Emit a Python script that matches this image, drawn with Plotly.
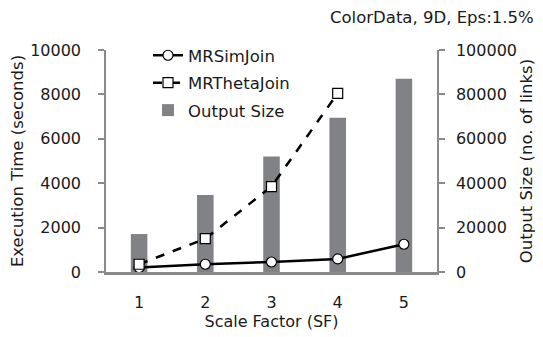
import plotly.graph_objects as go

scale_factors = [1, 2, 3, 4, 5]
mrsimjoin = [200, 350, 450, 590, 1250]
mrthetajoin = [350, 1500, 3850, 8050, None]
output_size = [17100, 34700, 52000, 69500, 87000]
left_ticks = [0, 2000, 4000, 6000, 8000, 10000]
right_ticks = [0, 20000, 40000, 60000, 80000, 100000]

FONT = "DejaVu Sans"
AX = "#8a8a8a"
TXT = "#1a1a1a"

# page body adds an 8px margin, so the figure is laid out 8px smaller
W, H = 535, 329
L, R, T, B = 98, 106, 42, 65
PW, PH = W - L - R, H - T - B

fig = go.Figure()
fig.add_trace(go.Scatter(
    x=scale_factors, y=mrsimjoin, name="MRSimJoin", yaxis="y2", legendgroup="a",
    mode="lines+markers",
    line=dict(color="black", width=2.5),
    marker=dict(symbol="circle", size=10, color="white", line=dict(color="black", width=1.2)),
))
fig.add_trace(go.Scatter(
    x=scale_factors, y=mrthetajoin, name="MRThetaJoin", yaxis="y2", legendgroup="b",
    mode="lines+markers",
    line=dict(color="black", width=2.5, dash="dash"),
    marker=dict(symbol="square", size=10, color="white", line=dict(color="black", width=1.2)),
))
fig.add_trace(go.Bar(
    x=scale_factors, y=output_size, name="Output Size", yaxis="y", legendgroup="c",
    width=0.25, marker=dict(color="#808285", line=dict(width=0)),
))

fig.add_annotation(text="ColorData, 9D, Eps:1.5%", xref="paper", yref="paper",
                   x=(528 - L) / PW, y=(H - B - 10) / PH, xanchor="right", yanchor="middle",
                   showarrow=False, font=dict(family=FONT, size=16.5, color=TXT))

fig.update_layout(
    width=W, height=H,
    margin=dict(l=L, r=R, t=T, b=B, autoexpand=False),
    paper_bgcolor="white", plot_bgcolor="white",
    font=dict(family=FONT, size=16, color=TXT),
    showlegend=True,
    legend=dict(x=(140 - L) / PW, y=(H - B - 30) / PH, xanchor="left", yanchor="top",
                bgcolor="rgba(0,0,0,0)", font=dict(size=16.5), traceorder="grouped",
                tracegroupgap=3),
    xaxis=dict(range=[0.5, 5.5], tickvals=scale_factors, ticktext=[str(v) for v in scale_factors],
               showgrid=False, zeroline=False, showline=True, linecolor=AX, linewidth=2.5,
               ticks="", ticklabelstandoff=14, tickfont=dict(size=16),
               title=dict(text="Scale Factor (SF)", standoff=2, font=dict(size=16))),
    yaxis=dict(side="right", range=[0, 100000], tickvals=right_ticks, ticktext=[str(v) for v in right_ticks],
               showgrid=False, zeroline=False, showline=True, linecolor=AX, linewidth=1.5,
               ticks="outside", ticklen=6, tickcolor=AX, tickwidth=1.5, ticklabelstandoff=8,
               title=dict(text="Output Size (no. of links)", standoff=1, font=dict(size=16.5))),
    yaxis2=dict(side="left", overlaying="y", range=[0, 10000], tickvals=left_ticks, ticktext=[str(v) for v in left_ticks],
                showgrid=False, zeroline=False, showline=True, linecolor=AX, linewidth=1.5,
                ticks="outside", ticklen=6, tickcolor=AX, tickwidth=1.5, ticklabelstandoff=14,
                title=dict(text="Execution Time (seconds)", standoff=4, font=dict(size=16.5))),
)

fig.write_html("out.html")
